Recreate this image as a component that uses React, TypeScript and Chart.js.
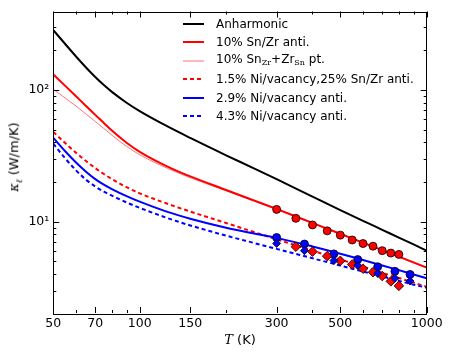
import React, { useEffect, useRef } from "react";
import { Chart, registerables } from "chart.js";

Chart.register(...registerables);

// ---- data ----
const temperatures = [50, 55, 60, 65, 70, 75, 80, 90, 100, 125, 150, 200, 250, 300, 400, 500, 600, 700, 800, 900, 1000];
const anharmonic = [284, 222.7, 179.2, 147.9, 125.2, 108.7, 96.5, 79.9, 69.0, 52.8, 43.2, 31.9, 25.4, 21.0, 15.5, 12.25, 10.15, 8.68, 7.57, 6.72, 6.03];
const snZrAnti10 = [131, 107.2, 89.3, 75.5, 64.6, 56.1, 49.1, 39.7, 33.9, 26.2, 22.05, 17.4, 14.5, 12.5, 9.79, 8.1, 6.94, 6.08, 5.43, 4.91, 4.49];
const snZrPt10 = [101, 86.7, 75.4, 65.6, 57.6, 50.9, 45.3, 37.3, 32.2, 25.4, 21.55, 17.15, 14.33, 12.37, 9.69, 8.02, 6.87, 6.02, 5.38, 4.86, 4.45];
const niVac15SnZr25 = [48, 39.5, 33.3, 28.85, 25.5, 23.0, 21.04, 18.27, 16.41, 13.67, 11.94, 9.77, 8.35, 7.35, 6.03, 5.17, 4.56, 4.1, 3.74, 3.45, 3.21];
const niVac29 = [43.2, 34.2, 28.12, 23.96, 21.05, 19.11, 17.69, 15.63, 14.19, 11.87, 10.54, 9.0, 8.14, 7.54, 6.49, 5.72, 5.12, 4.66, 4.29, 3.98, 3.73];
const niVac43 = [39.1, 30.23, 24.53, 20.82, 18.49, 16.91, 15.75, 14.0, 12.73, 10.65, 9.37, 7.84, 6.9, 6.22, 5.28, 4.65, 4.19, 3.84, 3.56, 3.33, 3.16];

const expRedCircleT = [300, 350, 400, 450, 500, 550, 600, 650, 700, 750, 800];
const expRedCircles = [12.4, 10.6, 9.45, 8.52, 7.91, 7.27, 6.83, 6.52, 6.03, 5.78, 5.65];
const expRedDiamondT = [350, 400, 450, 500, 550, 600, 650, 700, 750, 800];
const expRedDiamonds = [6.46, 5.93, 5.48, 5.05, 4.74, 4.4, 4.14, 3.87, 3.53, 3.26];
const expBlueT = [300, 375, 475, 575, 675, 775, 875];
const expBlueCircles = [7.59, 6.77, 5.7, 5.16, 4.55, 4.2, 3.98];
const expBlueDiamonds = [6.84, 6.03, 5.07, 4.66, 4.05, 3.72, 3.55];

const xTickLabels = [50, 70, 100, 150, 300, 500, 1000];
const xMinorTicks = [60, 80, 90, 200, 400, 600, 700, 800, 900];
const yTickValues = [10, 100];
const yTickText = ["10¹", "10²"];
const yMinorTicks = [3, 4, 5, 6, 7, 8, 9, 20, 30, 40, 50, 60, 70, 80, 90, 200, 300];

const X_MIN = 50;
const X_MAX = 1000;
const Y_MIN = 2.03;
const Y_MAX = 393;

const pts = (xs: number[], ys: number[]) => xs.map((x, i) => ({ x, y: ys[i] }));

const framePlugin = {
  id: "frameTicks",
  afterDraw(chart: any) {
    const { ctx, chartArea: a, scales } = chart;
    const xs = scales.x;
    const ys = scales.y;
    ctx.save();
    ctx.strokeStyle = "#000";
    ctx.lineWidth = 1;
    ctx.beginPath();
    const drawX = (v: number, len: number) => {
      const px = Math.round(xs.getPixelForValue(v)) + 0.5;
      ctx.moveTo(px, a.bottom);
      ctx.lineTo(px, a.bottom - len);
      ctx.moveTo(px, a.top);
      ctx.lineTo(px, a.top + len);
    };
    const drawY = (v: number, len: number) => {
      const py = Math.round(ys.getPixelForValue(v)) + 0.5;
      ctx.moveTo(a.left, py);
      ctx.lineTo(a.left + len, py);
      ctx.moveTo(a.right, py);
      ctx.lineTo(a.right - len, py);
    };
    xTickLabels.forEach((v) => drawX(v, 6));
    xMinorTicks.forEach((v) => drawX(v, 3));
    yTickValues.forEach((v) => drawY(v, 6));
    yMinorTicks.forEach((v) => drawY(v, 3));
    ctx.stroke();
    ctx.strokeRect(Math.round(a.left) + 0.5, Math.round(a.top) + 0.5, Math.round(a.right - a.left), Math.round(a.bottom - a.top));
    ctx.restore();
  },
};

type LegendItem = { label: React.ReactNode; color: string; width: number; dash?: string };

const subStyle: React.CSSProperties = { fontFamily: "DejaVu Serif", fontSize: 8, verticalAlign: "-2px" };

const legendItems: LegendItem[] = [
  { label: "Anharmonic", color: "#000000", width: 2 },
  { label: "10% Sn/Zr anti.", color: "#ff0000", width: 2 },
  {
    label: (
      <>
        10% Sn<sub style={subStyle}>Zr</sub>+Zr<sub style={subStyle}>Sn</sub> pt.
      </>
    ),
    color: "rgba(255,0,0,0.55)",
    width: 1,
  },
  { label: "1.5% Ni/vacancy,25% Sn/Zr anti.", color: "#ff0000", width: 2, dash: "4,3" },
  { label: "2.9% Ni/vacancy anti.", color: "#0000ff", width: 2 },
  { label: "4.3% Ni/vacancy anti.", color: "#0000ff", width: 2, dash: "4,3" },
];

export default function App() {
  const canvasRef = useRef<HTMLCanvasElement | null>(null);

  useEffect(() => {
    if (!canvasRef.current) return;
    const line = (data: number[], color: string, width: number, dash: number[] = [], order = 2) => ({
      type: "line" as const,
      data: pts(temperatures, data),
      borderColor: color,
      backgroundColor: color,
      borderWidth: width,
      borderDash: dash,
      pointRadius: 0,
      fill: false,
      cubicInterpolationMode: "monotone" as const,
      order,
    });
    const markers = (xs: number[], ys: number[], color: string, style: string, radius: number) => ({
      type: "line" as const,
      data: pts(xs, ys),
      showLine: false,
      pointStyle: style,
      pointRadius: radius,
      pointBackgroundColor: color,
      pointBorderColor: "#000",
      pointBorderWidth: 0.8,
      order: 0,
    });

    const chart = new Chart(canvasRef.current, {
      type: "line",
      data: {
        datasets: [
          markers(expBlueT, expBlueDiamonds, "#0000ff", "rectRot", 4),
          markers(expRedDiamondT, expRedDiamonds, "#ff0000", "rectRot", 4.8),
          markers(expBlueT, expBlueCircles, "#0000ff", "circle", 4),
          markers(expRedCircleT, expRedCircles, "#ff0000", "circle", 4),
          line(niVac43, "#0000ff", 2, [4, 3], 1),
          line(niVac29, "#0000ff", 2, [], 2),
          line(niVac15SnZr25, "#ff0000", 2, [4, 3], 3),
          line(snZrPt10, "rgba(255,0,0,0.55)", 1, [], 5),
          line(snZrAnti10, "#ff0000", 2, [], 4),
          line(anharmonic, "#000000", 2, [], 6),
        ] as any,
      },
      options: {
        animation: false,
        responsive: false,
        devicePixelRatio: 1,
        parsing: false as any,
        layout: { padding: { top: 8, right: 26.3, left: 0, bottom: 0 } },
        plugins: { legend: { display: false }, tooltip: { enabled: false } },
        scales: {
          x: {
            type: "logarithmic",
            min: X_MIN,
            max: X_MAX,
            grid: { display: false, drawTicks: false },
            border: { display: false },
            afterFit: (s: any) => {
              s.height = 41;
            },
            afterBuildTicks: (s: any) => {
              s.ticks = xTickLabels.map((v) => ({ value: v }));
            },
            ticks: {
              autoSkip: false,
              maxRotation: 0,
              minRotation: 0,
              padding: 3,
              color: "#000",
              font: { family: "DejaVu Sans", size: 12.5 },
              callback: (v: any) => String(v),
            },
          },
          y: {
            type: "logarithmic",
            min: Y_MIN,
            max: Y_MAX,
            grid: { display: false, drawTicks: false },
            border: { display: false },
            afterFit: (s: any) => {
              s.width = 53.3;
            },
            afterBuildTicks: (s: any) => {
              s.ticks = yTickValues.map((v) => ({ value: v }));
            },
            ticks: {
              autoSkip: false,
              padding: 4,
              color: "#000",
              font: { family: "DejaVu Sans", size: 12.5 },
              callback: (v: any) => {
                const i = yTickValues.indexOf(Number(v));
                return i >= 0 ? yTickText[i] : "";
              },
            },
          },
        },
      } as any,
      plugins: [framePlugin],
    });
    return () => chart.destroy();
  }, []);

  return (
    <div
      style={{
        position: "fixed",
        left: 0,
        top: 0,
        width: 453,
        height: 354,
        background: "#fff",
        fontFamily: "DejaVu Sans",
        color: "#000",
      }}
    >
      <canvas ref={canvasRef} width={453} height={354} style={{ display: "block", width: 453, height: 354 }} />
      {legendItems.map((it, i) => (
        <div
          key={i}
          style={{
            position: "absolute",
            left: 183,
            top: 24 + i * 18.4 - 9,
            height: 18,
            display: "flex",
            alignItems: "center",
            whiteSpace: "nowrap",
            fontSize: 12,
            lineHeight: "18px",
          }}
        >
          <svg width={21} height={6} style={{ display: "block" }}>
            <line x1={0} y1={3} x2={21} y2={3} stroke={it.color} strokeWidth={it.width} strokeDasharray={it.dash} />
          </svg>
          <span style={{ marginLeft: 12 }}>{it.label}</span>
        </div>
      ))}
      <div
        style={{
          position: "absolute",
          left: 15,
          top: 157,
          transform: "translate(-50%, -50%) rotate(-90deg)",
          whiteSpace: "nowrap",
          fontSize: 13,
        }}
      >
        <span style={{ fontFamily: "DejaVu Serif", fontStyle: "italic" }}>κ</span>
        <sub style={{ fontFamily: "DejaVu Serif", fontStyle: "italic", fontSize: 9 }}>ℓ</sub> (W/m/K)
      </div>
      <div
        style={{
          position: "absolute",
          left: 240,
          top: 339,
          transform: "translate(-50%, -50%)",
          whiteSpace: "nowrap",
          fontSize: 13,
        }}
      >
        <span style={{ fontFamily: "DejaVu Serif", fontStyle: "italic" }}>T</span> (K)
      </div>
    </div>
  );
}
